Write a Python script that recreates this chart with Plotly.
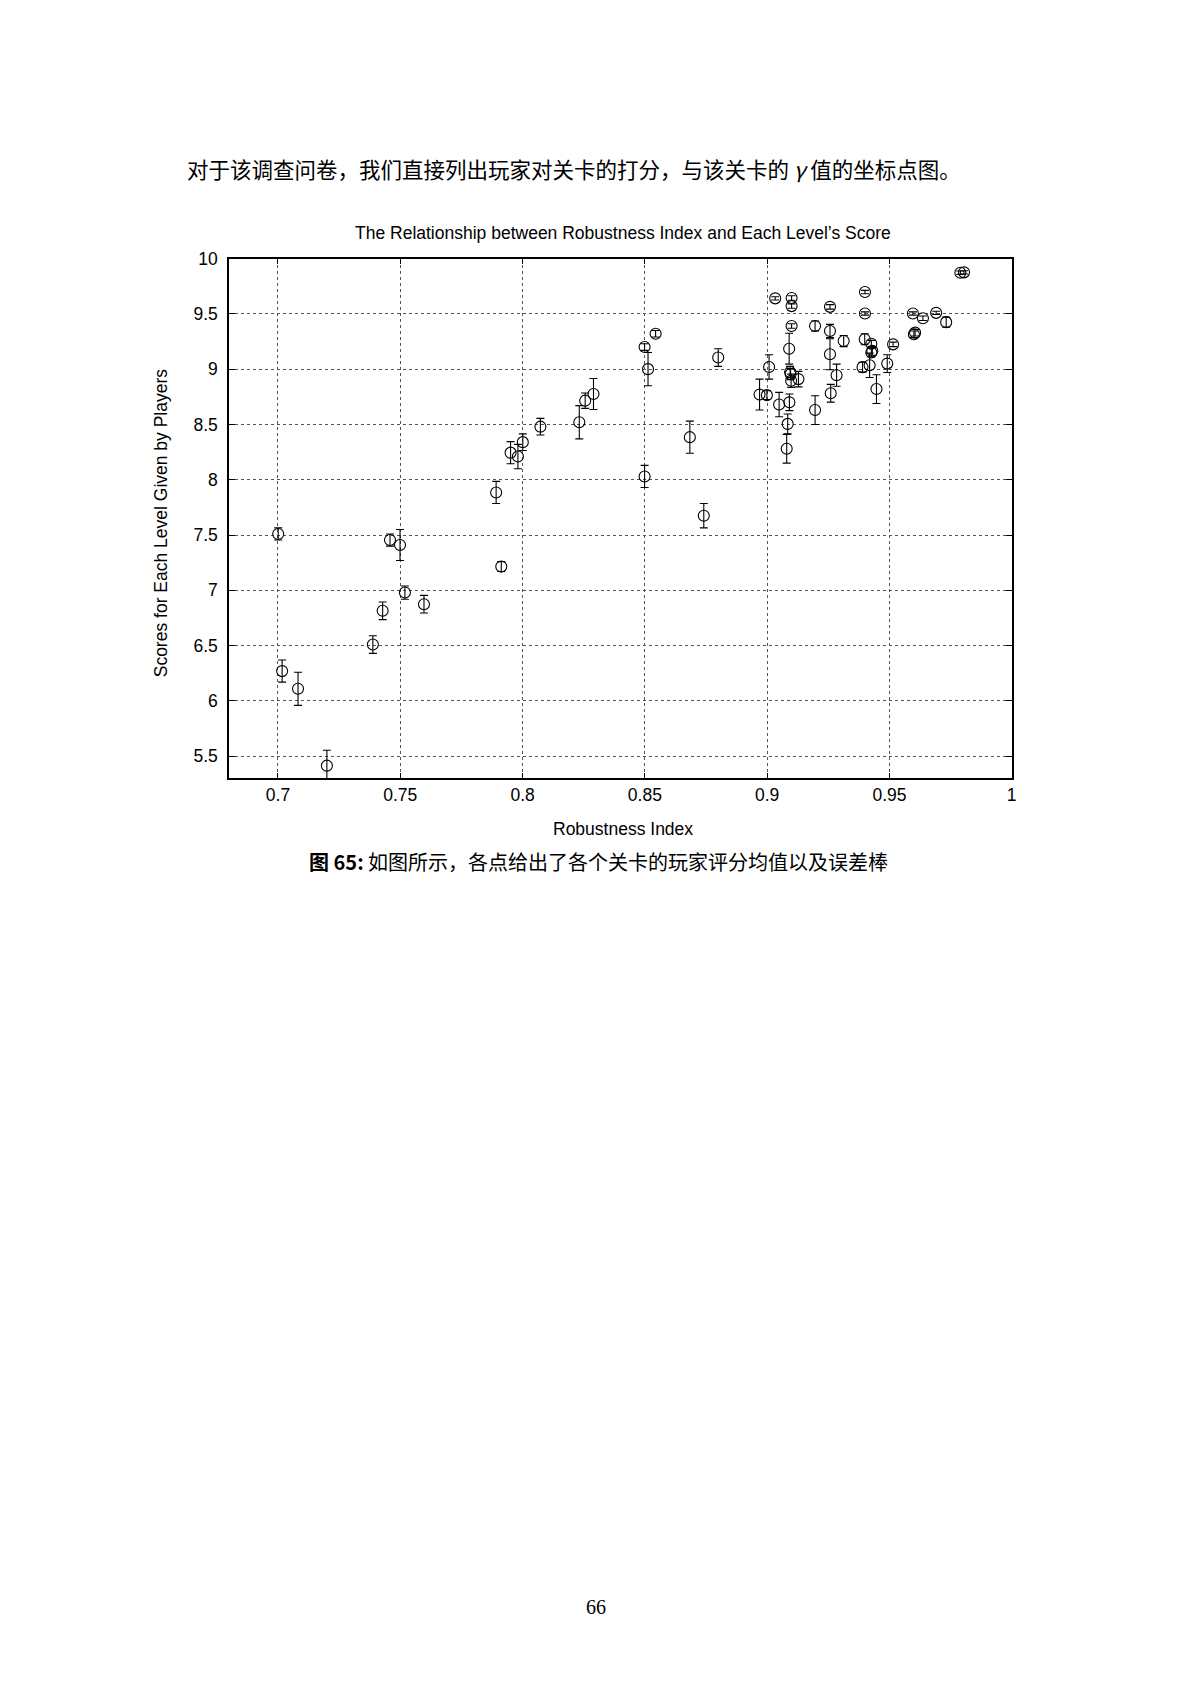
import plotly.graph_objects as go

# ============================================================================
# DATA
# ============================================================================

# Robustness index of each level
robustness = [
    0.7001, 0.7017, 0.7082, 0.7200, 0.7388, 0.7428, 0.7458, 0.7499, 0.7519, 0.7597,
    0.7892, 0.7913, 0.7951, 0.7981, 0.8001, 0.8073, 0.8232, 0.8256, 0.8290, 0.8499,
    0.8544, 0.8513, 0.8499, 0.8684, 0.8741, 0.8800, 0.9033, 0.9100, 0.9100, 0.9100,
    0.9090, 0.9008, 0.8969, 0.8999, 0.9049, 0.9091, 0.9084, 0.9080, 0.9094, 0.9096,
    0.9098, 0.9128, 0.9196, 0.9196, 0.9257, 0.9257, 0.9257, 0.9260, 0.9284, 0.9313,
    0.9400, 0.9400, 0.9399, 0.9426, 0.9426, 0.9430, 0.9390, 0.9419, 0.9447, 0.9491,
    0.9515, 0.9596, 0.9637, 0.9691, 0.9732, 0.9600, 0.9605, 0.9790, 0.9805,
]

# Mean score given by players
mean_score = [
    7.510, 6.270, 6.110, 5.415, 6.510, 6.815, 7.455, 7.410, 6.980, 6.875,
    7.885, 7.215, 8.245, 8.210, 8.340, 8.480, 8.520, 8.715, 8.775, 9.200,
    9.320, 9.000, 8.030, 8.385, 7.675, 9.105, 9.640, 9.643, 9.570, 9.390,
    9.185, 9.020, 8.770, 8.765, 8.680, 8.700, 8.505, 8.280, 8.975, 8.955,
    8.895, 8.910, 9.390, 8.630, 9.563, 9.345, 9.135, 8.782, 8.945, 9.254,
    9.697, 9.503, 9.270, 9.230, 9.150, 9.165, 9.018, 9.035, 8.820, 9.050,
    9.224, 9.503, 9.460, 9.509, 9.425, 9.315, 9.330, 9.872, 9.875,
]

# Half length of each error bar
score_err = [
    0.055, 0.100, 0.150, 0.140, 0.080, 0.080, 0.055, 0.140, 0.060, 0.080,
    0.100, 0.045, 0.100, 0.110, 0.075, 0.075, 0.150, 0.070, 0.140, 0.030,
    0.030, 0.150, 0.100, 0.145, 0.110, 0.080, 0.015, 0.020, 0.020, 0.020,
    0.140, 0.110, 0.140, 0.040, 0.110, 0.075, 0.090, 0.130, 0.050, 0.050,
    0.060, 0.070, 0.045, 0.130, 0.020, 0.060, 0.140, 0.080, 0.100, 0.050,
    0.015, 0.015, 0.050, 0.030, 0.040, 0.040, 0.045, 0.110, 0.130, 0.080,
    0.020, 0.015, 0.020, 0.015, 0.045, 0.030, 0.030, 0.015, 0.015,
]

x_tick_vals = [0.7, 0.75, 0.8, 0.85, 0.9, 0.95, 1.0]
x_tick_text = ["0.7", "0.75", "0.8", "0.85", "0.9", "0.95", "1"]
y_tick_vals = [5.5, 6.0, 6.5, 7.0, 7.5, 8.0, 8.5, 9.0, 9.5, 10.0]
y_tick_text = ["5.5", "6", "6.5", "7", "7.5", "8", "8.5", "9", "9.5", "10"]

# ============================================================================
# PAGE GEOMETRY (figure sits inside the body margin of the page)
# ============================================================================
W, H = 1176, 1660
X0, Y0 = 8, 15


def px(x):
    return (x - X0) / W


def py(y):
    return 1 - (y - Y0) / H


SANS = "Liberation Sans, Arial, sans-serif"
CJK = "Noto Sans CJK SC, sans-serif"

# ============================================================================
# FIGURE
# ============================================================================
fig = go.Figure()

fig.add_trace(go.Scatter(
    x=robustness,
    y=mean_score,
    mode="markers",
    marker=dict(symbol="circle-open", size=11, color="black", line=dict(width=1.1, color="black")),
    error_y=dict(type="data", array=score_err, visible=True, color="black", thickness=1.1, width=4),
    showlegend=False,
))

axis_common = dict(
    showline=True, linecolor="black", linewidth=1.6, mirror="ticks",
    ticks="inside", ticklen=6, tickwidth=1, tickcolor="black",
    showgrid=True, gridcolor="#555555", griddash="dot", gridwidth=1,
    zeroline=False, tickfont=dict(family=SANS, size=17.5, color="black"),
)

fig.update_layout(
    width=W, height=H,
    margin=dict(l=0, r=0, t=0, b=0),
    paper_bgcolor="white", plot_bgcolor="white",
    xaxis=dict(
        domain=[px(230), px(1016)], range=[0.68, 1.0],
        tickvals=x_tick_vals, ticktext=x_tick_text,
        **axis_common,
    ),
    yaxis=dict(
        domain=[py(780), py(257)], range=[5.3, 10.0],
        tickvals=y_tick_vals, ticktext=y_tick_text, ticklabelstandoff=6,
        **axis_common,
    ),
)

# text on the page
page_text = [
    (186, 166, "对于该调查问卷，我们直接列出玩家对关卡的打分，与该关卡的 <i>γ</i> 值的坐标点图。", CJK, 21.5, "left"),
    (626, 231, "The Relationship between Robustness Index and Each Level\u2019s Score", SANS, 17.5, "center"),
    (626, 831, "Robustness Index", SANS, 17.5, "center"),
    (601, 864, "<b>图 65:</b> 如图所示，各点给出了各个关卡的玩家评分均值以及误差棒", CJK, 20, "center"),
    (599, 1614, "66", "Liberation Serif, serif", 20, "center"),
]
for x, y, txt, fam, size, anchor in page_text:
    fig.add_annotation(
        x=px(x), y=py(y), xref="paper", yref="paper", text=txt, showarrow=False,
        xanchor=anchor, yanchor="middle", font=dict(family=fam, size=size, color="black"),
    )

fig.add_annotation(
    x=px(162), y=py(523), xref="paper", yref="paper", showarrow=False,
    text="Scores for Each Level Given by Players", textangle=-90,
    xanchor="center", yanchor="middle", font=dict(family=SANS, size=17.5, color="black"),
)

fig.write_html("out.html")
